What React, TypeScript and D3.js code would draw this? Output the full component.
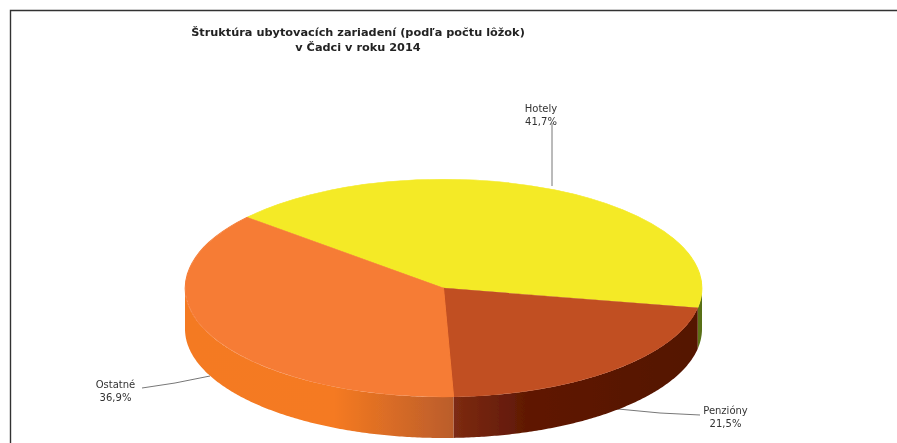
import React from "react";
import * as d3 from "d3";

const categories = ["Hotely", "Penzióny", "Ostatné"];
const shares = [41.7, 21.5, 36.9];
const shareLabels = ["41,7%", "21,5%", "36,9%"];
const titleLines = ["Štruktúra ubytovacích zariadení (podľa počtu lôžok)", "v Čadci v roku 2014"];
const topColors = ["#f4ea26", "#c14f22", "#f67c35"];

const W = 897, H = 443;
const cx = 443.5, cy = 288, rx = 258.5, ry = 109, depth = 41;
const start = (-49.5 * Math.PI) / 180;

const pie = d3.pie<number>().sort(null).startAngle(start).endAngle(start + 2 * Math.PI);
const arcs = pie(shares);
const unitArc = d3.arc<d3.PieArcDatum<number>>().innerRadius(0).outerRadius(1);
const px = (a: number) => cx + rx * Math.sin(a);
const py = (a: number) => cy - ry * Math.cos(a);

// the pie wall is visible from pi/2 (right) to 3pi/2 (left)
function wallPath(a0: number, a1: number) {
  const from = Math.max(a0, Math.PI / 2);
  const to = Math.min(a1, (3 * Math.PI) / 2);
  if (to <= from) return "";
  const angles = d3.range(from, to, 0.01).concat([to]);
  return (
    d3
      .area<number>()
      .x(px)
      .y0(py)
      .y1((a) => py(a) + depth)(angles) ?? ""
  );
}

const wall = (i: number) => wallPath(arcs[i].startAngle, arcs[i].endAngle);

const leaders: [number, number][][] = [
  [[552, 123], [552, 186]],
  [[700, 415], [660, 413], [618, 409]],
  [[142, 388], [175, 383], [210, 376]],
];
const labelPos: [number, number][] = [[541, 112], [725.5, 414], [115.5, 388]];

export default function App() {
  return (
    <svg width={W} height={H} style={{ position: "absolute", left: 0, top: 0 }} fontFamily="'DejaVu Sans', sans-serif">
      <defs>
        <filter id="soft" x="-2%" y="-2%" width="104%" height="104%">
          <feGaussianBlur stdDeviation="0.55" />
        </filter>
        <linearGradient id="wall0" gradientUnits="userSpaceOnUse" x1={680} x2={705} y1={0} y2={0}>
          <stop offset="0" stopColor="#8a8a10" />
          <stop offset="1" stopColor="#4f6a1a" />
        </linearGradient>
        <linearGradient id="wall1" gradientUnits="userSpaceOnUse" x1={456} x2={700} y1={0} y2={0}>
          <stop offset="0" stopColor="#7c2a12" />
          <stop offset="0.3" stopColor="#5f1804" />
          <stop offset="1" stopColor="#541200" />
        </linearGradient>
        <linearGradient id="wall2" gradientUnits="userSpaceOnUse" x1={185} x2={456} y1={0} y2={0}>
          <stop offset="0" stopColor="#f47a24" />
          <stop offset="0.55" stopColor="#f57a20" />
          <stop offset="1" stopColor="#b95c2c" />
        </linearGradient>
      </defs>
      <rect width={W} height={H} fill="#fff" />
      <g filter="url(#soft)">
        <path d={`M10.5,${H}V10.5H${W + 5}`} fill="none" stroke="#333" strokeWidth={1.4} />
        <text textAnchor="middle" fontSize={11.3} fontWeight={700} fill="#222">
          {titleLines.map((t, i) => (
            <tspan key={t} x={358} y={35.5 + i * 15.5}>{t}</tspan>
          ))}
        </text>
        {leaders.map((l, i) => (
          <path key={i} d={d3.line()(l) ?? ""} fill="none" stroke="#777" strokeWidth={1} />
        ))}
        {arcs.map((a, i) => (
          <path key={i} d={wall(i)} fill={`url(#wall${i})`} />
        ))}
        {arcs.map((a, i) => (
          <path
            key={i}
            transform={`translate(${cx},${cy}) scale(${rx},${ry})`}
            d={unitArc(a) ?? ""}
            fill={topColors[i]}
            stroke={topColors[i]}
            strokeWidth={0.004}
          />
        ))}
        {categories.map((c, i) => (
          <text key={c} textAnchor="middle" fontSize={10} fill="#333">
            <tspan x={labelPos[i][0]} y={labelPos[i][1]}>{c}</tspan>
            <tspan x={labelPos[i][0]} y={labelPos[i][1] + 13}>{shareLabels[i]}</tspan>
          </text>
        ))}
      </g>
    </svg>
  );
}
